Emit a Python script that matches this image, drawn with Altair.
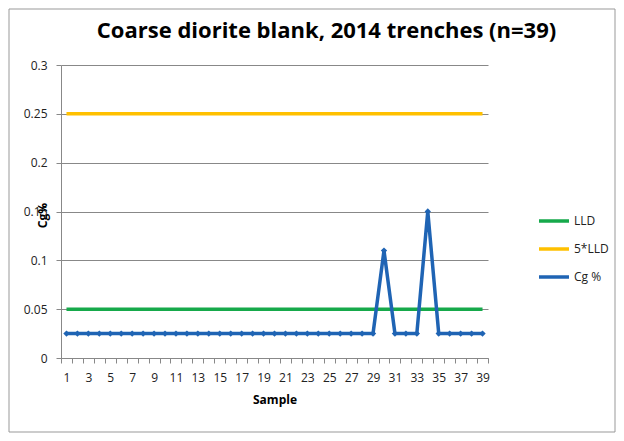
import altair as alt
import pandas as pd

samples = list(range(1, 40))
cg_pct = [0.025] * 29 + [0.11, 0.025, 0.025, 0.025, 0.15] + [0.025] * 5
lld = [0.05] * 39
five_lld = [0.25] * 39

series_order = ["LLD", "5*LLD", "Cg %"]
series_colors = ["#16A94B", "#FFC000", "#1F64B4"]

df = pd.concat(
    [
        pd.DataFrame({"Sample": samples, "value": lld, "series": "LLD"}),
        pd.DataFrame({"Sample": samples, "value": five_lld, "series": "5*LLD"}),
        pd.DataFrame({"Sample": samples, "value": cg_pct, "series": "Cg %"}),
    ]
)

W, H = 427, 293
font = "Open Sans"

x_enc = alt.X(
    "Sample:O",
    bandPosition=0.5,
    scale=alt.Scale(type="band", paddingInner=0, paddingOuter=0),
    axis=alt.Axis(
        title="Sample",
        titleFont=font,
        titleFontSize=12,
        titleFontWeight="bold",
        titleColor="#000",
        titlePadding=11,
        labelAngle=0,
        labelFont=font,
        labelFontSize=12,
        labelColor="#222",
        labelExpr="datum.value % 2 == 1 ? datum.label : ''",
        tickBand="extent",
        tickSize=5,
        tickColor="#888",
        domainColor="#888",
        labelPadding=9,
    ),
)
y_enc = alt.Y(
    "value:Q",
    scale=alt.Scale(domain=[0, 0.3]),
    axis=alt.Axis(
        values=[0, 0.05, 0.1, 0.15, 0.2, 0.25, 0.3],
        format="~g",
        title="Cg%",
        titleFont=font,
        titleFontSize=12,
        titleFontWeight="bold",
        titleColor="#000",
        titleX=-19,
        titleY=150,
        titleAngle=270,
        titleAlign="center",
        titleBaseline="middle",
        labelFont=font,
        labelFontSize=12,
        labelColor="#222",
        labelPadding=9,
        tickSize=5,
        tickColor="#888",
        gridColor="#888",
        domainColor="#888",
    ),
)
color_enc = alt.Color(
    "series:N",
    scale=alt.Scale(domain=series_order, range=series_colors),
    legend=alt.Legend(
        title=None,
        orient="none",
        legendX=W + 49,
        legendY=139,
        symbolType="stroke",
        symbolSize=900,
        symbolStrokeWidth=3.5,
        labelFont=font,
        labelFontSize=12,
        labelColor="#222",
        rowPadding=4,
        labelOffset=3,
    ),
)

lines = (
    alt.Chart(df)
    .transform_filter(alt.datum.series != "Cg %")
    .mark_line(strokeWidth=3.5)
    .encode(x=x_enc, y=y_enc, color=color_enc, detail="series:N")
)
cg = (
    alt.Chart(df)
    .transform_filter(alt.datum.series == "Cg %")
    .mark_line(strokeWidth=3.5, point=alt.OverlayMarkDef(shape="diamond", size=40, filled=True, color="#1F64B4"))
    .encode(x=x_enc, y=y_enc, color=color_enc)
)
frame = alt.Chart(pd.DataFrame({"a": [0]})).mark_rect(
    fill=None, stroke="#999", strokeWidth=1, clip=False
).encode(
    x=alt.value(-52), x2=alt.value(W + 127), y=alt.value(-56), y2=alt.value(H + 74)
)

chart = (
    (lines + cg + frame)
    .properties(
        width=W,
        height=H,
        autosize=alt.AutoSizeParams(type="none"),
        padding={"left": 53, "top": 57, "right": 128, "bottom": 75},
        title=alt.TitleParams(
            "Coarse diorite blank, 2014 trenches (n=39)",
            font=font,
            fontSize=22,
            fontWeight="bold",
            color="#000",
            anchor="middle",
            dx=52,
            offset=-34,
        ),
    )
    .configure_view(stroke=None)
)

chart.save("out.html", embed_options={"renderer": "svg", "actions": False})
